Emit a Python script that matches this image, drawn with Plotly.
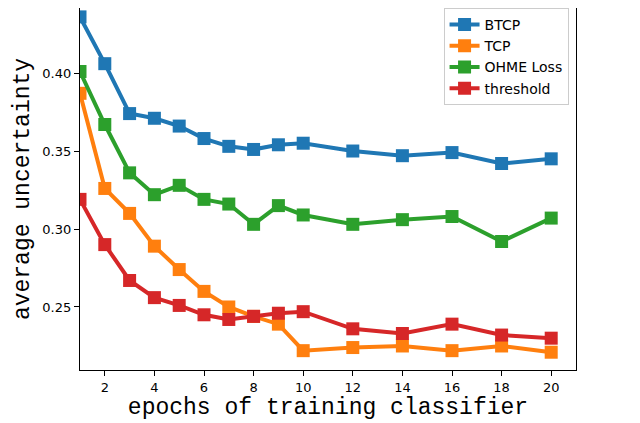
import plotly.graph_objects as go

# epochs
epochs = [1, 2, 3, 4, 5, 6, 7, 8, 9, 10, 12, 14, 16, 18, 20]

# average uncertainty per method
btcp = [0.436, 0.406, 0.374, 0.371, 0.366, 0.358, 0.353, 0.351, 0.354, 0.355,
        0.350, 0.347, 0.349, 0.342, 0.345]
tcp = [0.387, 0.326, 0.310, 0.289, 0.274, 0.260, 0.250, 0.244, 0.239, 0.222,
       0.224, 0.225, 0.222, 0.225, 0.221]
ohme = [0.401, 0.367, 0.336, 0.322, 0.328, 0.319, 0.316, 0.303, 0.315, 0.309,
        0.303, 0.306, 0.308, 0.292, 0.307]
threshold = [0.319, 0.290, 0.267, 0.256, 0.251, 0.245, 0.242, 0.244, 0.246, 0.247,
             0.236, 0.233, 0.239, 0.232, 0.230]

series = [
    ("BTCP", btcp, "#1f77b4"),
    ("TCP", tcp, "#ff7f0e"),
    ("OHME Loss", ohme, "#2ca02c"),
    ("threshold", threshold, "#d62728"),
]

fig = go.Figure()
for name, values, color in series:
    fig.add_trace(go.Scatter(
        x=epochs, y=values, name=name, mode="lines+markers",
        line=dict(color=color, width=4),
        marker=dict(symbol="square", size=13, color=color),
    ))

axis_common = dict(
    showline=True, linecolor="black", linewidth=1.3, mirror=True,
    ticks="outside", ticklen=5, tickcolor="black", showgrid=False,
    zeroline=False, tickfont=dict(family="DejaVu Sans", size=13, color="black"),
)

# the page puts the plot 8px in from the top-left corner
fig.update_layout(
    width=632, height=415,
    margin=dict(l=72, r=64, t=0, b=53),
    plot_bgcolor="white", paper_bgcolor="white",
    xaxis=dict(range=[1, 21], tickvals=list(range(2, 21, 2)),
               title=dict(text="epochs of training classifier", standoff=3,
                          font=dict(family="Liberation Mono", size=23, color="black")),
               **axis_common),
    yaxis=dict(range=[0.2096, 0.4417], tickvals=[0.25, 0.30, 0.35, 0.40],
               tickformat=".2f",
               title=dict(text="average uncertainty", standoff=6,
                          font=dict(family="Liberation Mono", size=23, color="black")),
               **axis_common),
    legend=dict(x=0.985, y=1.0, xanchor="right", yanchor="top",
                bgcolor="rgba(255,255,255,0.8)", bordercolor="#cccccc", borderwidth=1,
                font=dict(family="DejaVu Sans", size=14, color="black"),
                tracegroupgap=0, itemwidth=30),
)

fig.write_html("out.html")
